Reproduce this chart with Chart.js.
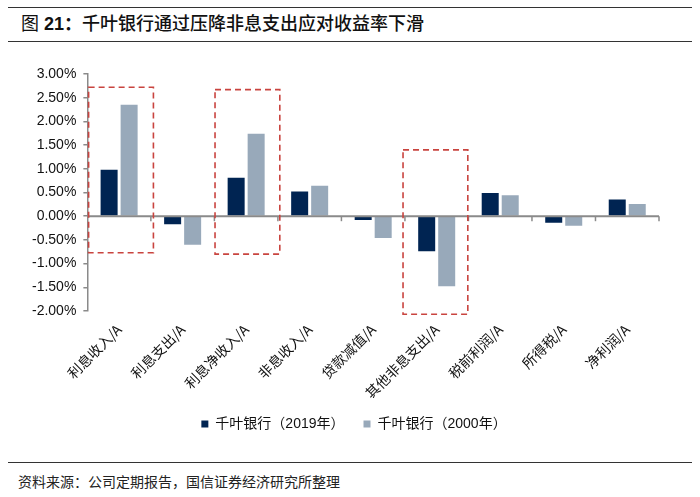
<!DOCTYPE html>
<html>
<head>
<meta charset="utf-8">
<script src="https://cdn.jsdelivr.net/npm/chart.js@4/dist/chart.umd.min.js"></script>
<style>
  html, body { margin: 0; padding: 0; background: #fff; }
  body { width: 700px; height: 497px; position: relative; overflow: hidden; font-family: "Liberation Sans", "Noto Sans CJK SC", sans-serif; }
  .rule { position: absolute; left: 8px; width: 684px; height: 0; border-top: 1.5px solid #333; }
  #title { position: absolute; left: 21px; top: 12px; font-size: 18px; line-height: 24px; color: #111; font-family: "Liberation Sans", "Noto Sans CJK SC", sans-serif; white-space: nowrap; }
  #title .n { font-weight: normal; }
  #title .b { font-weight: bold; }
  #title .m { font-weight: 500; }
  #footer { position: absolute; left: 18px; top: 471px; font-size: 14px; line-height: 20px; color: #222; font-family: "Noto Sans CJK SC", sans-serif; white-space: nowrap; }
  #wrap { position: absolute; left: 0; top: 50px; width: 700px; height: 405px; }
</style>
</head>
<body>
<div class="rule" style="top:7px"></div>
<div id="title"><span class="n">图</span> <span class="b">21：</span><span class="m">千叶银行通过压降非息支出应对收益率下滑</span></div>
<div class="rule" style="top:41px"></div>
<div id="wrap"><canvas id="c"></canvas></div>
<div class="rule" style="top:462px"></div>
<div id="footer">资料来源：公司定期报告，国信证券经济研究所整理</div>
<script>
const categories = ['利息收入/A','利息支出/A','利息净收入/A','非息收入/A','贷款减值/A','其他非息支出/A','税前利润/A','所得税/A','净利润/A'];
const seriesNames = ['千叶银行（2019年）','千叶银行（2000年）'];
const values2019 = [0.98, -0.17, 0.81, 0.52, -0.08, -0.74, 0.49, -0.14, 0.35];
const values2000 = [2.35, -0.60, 1.74, 0.64, -0.46, -1.48, 0.44, -0.20, 0.26];
const yMin = -2, yMax = 3, yStep = 0.5;
// highlight boxes in data units (category index, percent)
const boxXMin = [-0.48, 1.51, 4.47];
const boxXMax = [0.54, 2.53, 5.49];
const boxYMax = [2.72, 2.67, 1.40];
const boxYMin = [-0.77, -0.80, -2.07];

const axisColor = '#8a8a8a';

const zeroAxisPlugin = {
  id: 'zeroAxis',
  afterDatasetsDraw(chart) {
    const {ctx, chartArea, scales} = chart;
    const x = scales.x, y = scales.y;
    const y0 = y.getPixelForValue(0);
    ctx.save();
    ctx.strokeStyle = axisColor;
    ctx.lineWidth = 2;
    ctx.beginPath();
    ctx.moveTo(chartArea.left, y0);
    ctx.lineTo(chartArea.right, y0);
    ctx.stroke();
    ctx.lineWidth = 1.5;
    for (let i = 1; i <= categories.length; i++) {
      const px = x.getPixelForValue(i - 0.5);
      ctx.beginPath();
      ctx.moveTo(px, y0);
      ctx.lineTo(px, y0 + 5);
      ctx.stroke();
    }
    ctx.restore();
  }
};

const boxPlugin = {
  id: 'boxes',
  afterDatasetsDraw(chart) {
    const {ctx, scales} = chart;
    const x = scales.x, y = scales.y;
    ctx.save();
    ctx.strokeStyle = '#c9443f';
    ctx.lineWidth = 1.6;
    ctx.setLineDash([6, 4]);
    for (let i = 0; i < boxXMin.length; i++) {
      const l = x.getPixelForValue(boxXMin[i]);
      const r = x.getPixelForValue(boxXMax[i]);
      const t = y.getPixelForValue(boxYMax[i]);
      const b = y.getPixelForValue(boxYMin[i]);
      ctx.strokeRect(l, t, r - l, b - t);
    }
    ctx.restore();
  }
};

// centre the legend on the whole canvas width
const legendCenterPlugin = {
  id: 'legendCenter',
  afterLayout(chart) {
    const lg = chart.legend;
    if (!lg) return;
    const shift = chart.width / 2 - (lg.left + lg.right) / 2 + 4;
    lg.left += shift;
    lg.right += shift;
  }
};

new Chart(document.getElementById('c'), {
  type: 'bar',
  data: {
    labels: categories,
    datasets: [
      { label: seriesNames[0], data: values2019, backgroundColor: '#002452', borderWidth: 0 },
      { label: seriesNames[1], data: values2000, backgroundColor: '#98a9ba', borderWidth: 0 }
    ]
  },
  options: {
    responsive: true,
    maintainAspectRatio: false,
    animation: false,
    categoryPercentage: 0.63,
    barPercentage: 0.85,
    layout: { padding: { top: 24, left: 25, right: 41, bottom: 14 } },
    plugins: {
      tooltip: { enabled: false },
      legend: {
        position: 'bottom',
        labels: {
          boxWidth: 7, boxHeight: 7, padding: 19, color: '#111',
          font: { size: 14, family: '"Liberation Sans", "Noto Sans CJK SC", sans-serif' }
        }
      }
    },
    scales: {
      x: {
        grid: { display: false, drawTicks: false },
        border: { display: false },
        afterFit: s => { s.height = 87; },
        ticks: {
          maxRotation: 45, minRotation: 45, padding: 10, color: '#111',
          font: { size: 14, family: '"Noto Sans CJK SC", sans-serif' }
        }
      },
      y: {
        min: yMin, max: yMax,
        grid: { drawOnChartArea: false, drawTicks: true, tickLength: 4, color: axisColor, lineWidth: 1.5 },
        border: { display: true, color: axisColor, width: 1.5 },
        ticks: {
          stepSize: yStep, padding: 7, color: '#111',
          font: { size: 14, family: '"Liberation Sans", Arial, sans-serif' },
          callback: v => v.toFixed(2) + '%'
        }
      }
    }
  },
  plugins: [zeroAxisPlugin, boxPlugin, legendCenterPlugin]
});
</script>
</body>
</html>
